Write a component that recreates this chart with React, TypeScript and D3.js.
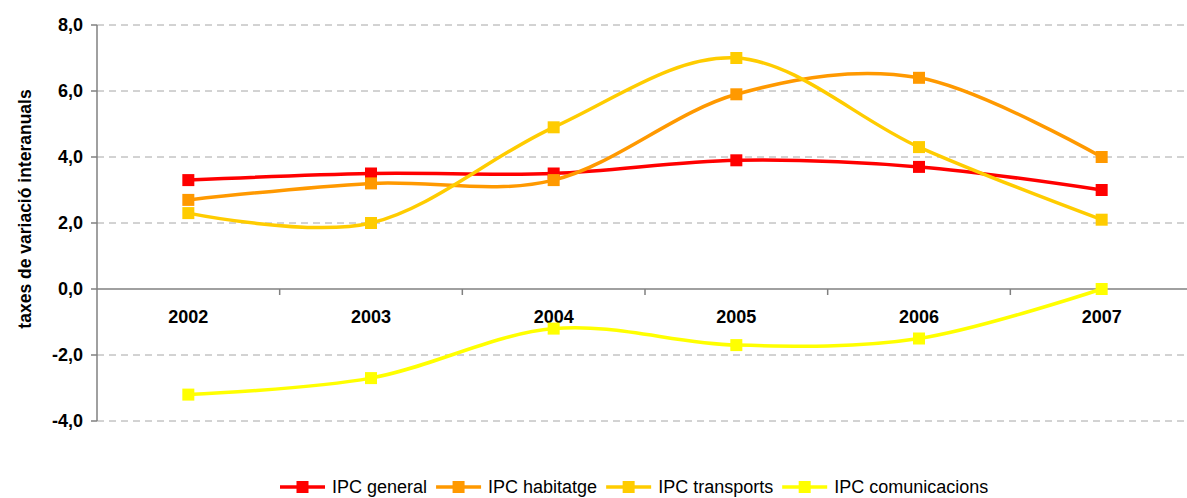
import React, { useEffect, useRef } from 'react';
import * as d3 from 'd3';

// years on the category axis
const years = ['2002', '2003', '2004', '2005', '2006', '2007'];

// series values (taxes de variació interanuals)
const ipcGeneral = [3.3, 3.5, 3.5, 3.9, 3.7, 3.0];
const ipcHabitatge = [2.7, 3.2, 3.3, 5.9, 6.4, 4.0];
const ipcTransports = [2.3, 2.0, 4.9, 7.0, 4.3, 2.1];
const ipcComunicacions = [-3.2, -2.7, -1.2, -1.7, -1.5, 0.0];

const seriesNames = ['IPC general', 'IPC habitatge', 'IPC transports', 'IPC comunicacions'];
const seriesColors = ['#FF0000', '#FF9900', '#FFCC00', '#FFFF00'];

const yTicks = [-4, -2, 0, 2, 4, 6, 8];

const W = 1187;
const H = 498;
const FONT = 'Liberation Sans, Arial, sans-serif';

export default function App() {
  const ref = useRef<SVGSVGElement>(null);

  useEffect(() => {
    const svg = d3.select(ref.current);
    svg.selectAll('*').remove();

    const x = d3.scaleBand().domain(years).range([97, 1193]);
    const y = d3.scaleLinear().domain([-4, 8]).range([421, 25]);
    const cx = (d: string) => (x(d) as number) + x.bandwidth() / 2;
    // excel style: comma decimal, plain hyphen
    const fmt = (v: number) => v.toFixed(1).replace('.', ',');

    // dashed gridlines
    svg.append('g')
      .selectAll('line')
      .data(yTicks.filter(t => t !== 0))
      .join('line')
      .attr('x1', 97).attr('x2', W)
      .attr('y1', d => y(d)).attr('y2', d => y(d))
      .attr('stroke', '#a6a6a6')
      .attr('stroke-width', 1)
      .attr('stroke-dasharray', '7,5');

    // y axis
    const yAxis = svg.append('g');
    yAxis.append('line')
      .attr('x1', 97).attr('x2', 97)
      .attr('y1', y(8)).attr('y2', y(-4))
      .attr('stroke', '#808080').attr('stroke-width', 1.5);
    yAxis.selectAll('line.tick')
      .data(yTicks)
      .join('line')
      .attr('class', 'tick')
      .attr('x1', 91).attr('x2', 97)
      .attr('y1', d => y(d)).attr('y2', d => y(d))
      .attr('stroke', '#808080').attr('stroke-width', 1.5);
    yAxis.selectAll('text')
      .data(yTicks)
      .join('text')
      .attr('x', 83)
      .attr('y', d => y(d))
      .attr('dy', '0.36em')
      .attr('text-anchor', 'end')
      .attr('font-family', FONT)
      .attr('font-weight', 'bold')
      .attr('font-size', 18)
      .text(d => fmt(d));

    // y axis title
    svg.append('text')
      .attr('transform', 'translate(31, 209) rotate(-90)')
      .attr('text-anchor', 'middle')
      .attr('font-family', FONT)
      .attr('font-weight', 'bold')
      .attr('font-size', 17.5)
      .text('taxes de variació interanuals');

    // x axis on zero
    const xAxis = svg.append('g');
    xAxis.append('line')
      .attr('x1', 97).attr('x2', W)
      .attr('y1', y(0)).attr('y2', y(0))
      .attr('stroke', '#808080').attr('stroke-width', 1.5);
    xAxis.selectAll('line.tick')
      .data(years.slice(1))
      .join('line')
      .attr('class', 'tick')
      .attr('x1', d => x(d) as number).attr('x2', d => x(d) as number)
      .attr('y1', y(0)).attr('y2', y(0) + 6)
      .attr('stroke', '#808080').attr('stroke-width', 1.5);
    xAxis.selectAll('text')
      .data(years)
      .join('text')
      .attr('x', d => cx(d))
      .attr('y', 323)
      .attr('text-anchor', 'middle')
      .attr('font-family', FONT)
      .attr('font-weight', 'bold')
      .attr('font-size', 18)
      .text(d => d);

    // series
    const allSeries = [ipcGeneral, ipcHabitatge, ipcTransports, ipcComunicacions];
    const line = d3.line<number>()
      .x((_, i) => cx(years[i]))
      .y(d => y(d))
      .curve(d3.curveCardinal.tension(0));
    const M = 12;

    allSeries.forEach((vals, s) => {
      const g = svg.append('g');
      g.append('path')
        .datum(vals)
        .attr('d', line)
        .attr('fill', 'none')
        .attr('stroke', seriesColors[s])
        .attr('stroke-width', 3.5);
      g.selectAll('rect')
        .data(vals)
        .join('rect')
        .attr('x', (_, i) => cx(years[i]) - M / 2)
        .attr('y', d => y(d) - M / 2)
        .attr('width', M).attr('height', M)
        .attr('fill', seriesColors[s]);
    });

    // legend
    const legend = svg.append('g');
    let lx = 280;
    const ly = 487;
    seriesNames.forEach((name, s) => {
      legend.append('line')
        .attr('x1', lx).attr('x2', lx + 45)
        .attr('y1', ly).attr('y2', ly)
        .attr('stroke', seriesColors[s]).attr('stroke-width', 3.5);
      legend.append('rect')
        .attr('x', lx + 22.5 - M / 2).attr('y', ly - M / 2)
        .attr('width', M).attr('height', M)
        .attr('fill', seriesColors[s]);
      const t = legend.append('text')
        .attr('x', lx + 52)
        .attr('y', ly + 6)
        .attr('font-family', FONT)
        .attr('font-size', 18)
        .text(name);
      const tw = (t.node() as SVGTextElement).getComputedTextLength();
      lx += 52 + tw + 9;
    });
  }, []);

  return (
    <svg
      ref={ref}
      width={W}
      height={H}
      style={{ position: 'absolute', left: 0, top: 0, background: '#fff' }}
    />
  );
}
